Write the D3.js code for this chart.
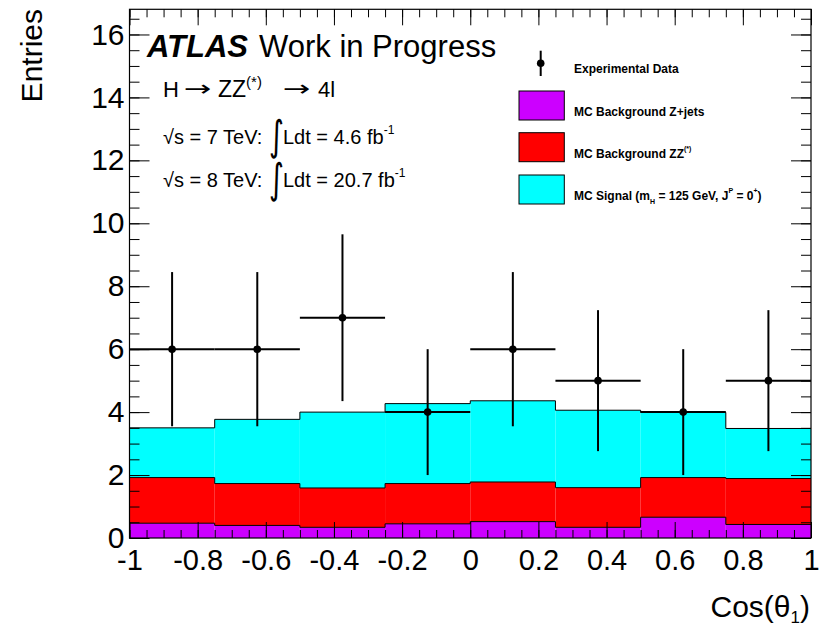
<!DOCTYPE html>
<html><head><meta charset="utf-8">
<script src="https://cdn.jsdelivr.net/npm/d3@7"></script>
<style>
body{margin:0;background:#fff;}
svg{display:block;font-family:"Liberation Sans",Arial,Helvetica,sans-serif;}
</style></head><body>
<svg id="chart" width="823" height="628"></svg>
<script>
// cos(theta_1) histogram: bin edges and per-bin contents
const binEdges = [-1, -0.75, -0.5, -0.25, 0, 0.25, 0.5, 0.75, 1];
const zjets  = [0.47, 0.40, 0.34, 0.45, 0.52, 0.34, 0.66, 0.43];
const zz     = [1.45, 1.33, 1.25, 1.28, 1.26, 1.26, 1.26, 1.46];
const signal = [1.58, 2.04, 2.41, 2.54, 2.58, 2.46, 2.07, 1.59];
const dataCounts = [6, 6, 7, 4, 6, 5, 4, 5];
const dataErrors = [2.45, 2.45, 2.65, 2.0, 2.45, 2.24, 2.0, 2.24];

const xTickValues = [-1, -0.8, -0.6, -0.4, -0.2, 0, 0.2, 0.4, 0.6, 0.8, 1];
const xTickLabels = ["-1", "-0.8", "-0.6", "-0.4", "-0.2", "0", "0.2", "0.4", "0.6", "0.8", "1"];
const yTickValues = [0, 2, 4, 6, 8, 10, 12, 14, 16];
const yTickLabels = ["0", "2", "4", "6", "8", "10", "12", "14", "16"];

const layerKeys = ["zjets", "zz", "signal"];
const layerColors = {zjets: "#cc00ff", zz: "#ff0000", signal: "#00ffff"};

const svg = d3.select("#chart");
const L = 129.5, R = 811, T = 9.3, B = 538;
const x = d3.scaleLinear().domain([-1, 1]).range([L, R]);
const y = d3.scaleLinear().domain([0, 16.8]).range([B, T]);

// stacked MC histograms
const rows = dataCounts.map((_, i) => ({i, zjets: zjets[i], zz: zz[i], signal: signal[i]}));
const stacked = d3.stack().keys(layerKeys)(rows);

const gHist = svg.append("g");
stacked.forEach(layer => {
  const g = gHist.append("g");
  g.selectAll("rect").data(layer).join("rect")
    .attr("x", d => x(binEdges[d.data.i]))
    .attr("width", d => x(binEdges[d.data.i + 1]) - x(binEdges[d.data.i]))
    .attr("y", d => y(d[1]))
    .attr("height", d => y(d[0]) - y(d[1]))
    .attr("fill", layerColors[layer.key]);
});
// step outlines on top of every layer
stacked.forEach(layer => {
  const pts = layer.map(d => [binEdges[d.data.i], d[1]]);
  pts.push([binEdges[binEdges.length - 1], layer[layer.length - 1][1]]);
  const line = d3.line().x(p => x(p[0])).y(p => y(p[1])).curve(d3.curveStepAfter);
  gHist.append("path").attr("d", line(pts))
    .attr("fill", "none").attr("stroke", "#000").attr("stroke-width", 1);
});

// axes with inward ticks on all four sides
function minorTicks(lo, hi, step) {
  const out = [];
  for (let v = lo; v <= hi + 1e-9; v += step) out.push(+v.toFixed(4));
  return out;
}
const xMinor = minorTicks(-1, 1, 0.05);
const yMinor = minorTicks(0, 16.5, 0.5);

function styleAxis(g) {
  g.select(".domain").remove();
  g.selectAll(".tick line").attr("stroke", "#000").attr("stroke-width", 1);
}

svg.append("g").attr("transform", `translate(0,${B})`)
  .call(d3.axisBottom(x).tickValues(xMinor).tickSize(-8).tickFormat(""))
  .call(styleAxis);
svg.append("g").attr("transform", `translate(0,${B})`)
  .call(d3.axisBottom(x).tickValues(xTickValues).tickSize(-16).tickPadding(11)
    .tickFormat((d, i) => xTickLabels[i]))
  .call(styleAxis)
  .selectAll("text").attr("font-size", 29).attr("fill", "#000")
  .attr("font-family", "Liberation Sans, Arial, sans-serif");
svg.append("g").attr("transform", `translate(0,${T})`)
  .call(d3.axisTop(x).tickValues(xMinor).tickSize(-8).tickFormat(""))
  .call(styleAxis);
svg.append("g").attr("transform", `translate(0,${T})`)
  .call(d3.axisTop(x).tickValues(xTickValues).tickSize(-16).tickFormat(""))
  .call(styleAxis);

svg.append("g").attr("transform", `translate(${L},0)`)
  .call(d3.axisLeft(y).tickValues(yMinor).tickSize(-10).tickFormat(""))
  .call(styleAxis);
svg.append("g").attr("transform", `translate(${L},0)`)
  .call(d3.axisLeft(y).tickValues(yTickValues).tickSize(-20).tickPadding(5)
    .tickFormat((d, i) => yTickLabels[i]))
  .call(styleAxis)
  .selectAll("text").attr("font-size", 30).attr("fill", "#000")
  .attr("font-family", "Liberation Sans, Arial, sans-serif");
svg.append("g").attr("transform", `translate(${R},0)`)
  .call(d3.axisRight(y).tickValues(yMinor).tickSize(-10).tickFormat(""))
  .call(styleAxis);
svg.append("g").attr("transform", `translate(${R},0)`)
  .call(d3.axisRight(y).tickValues(yTickValues).tickSize(-20).tickFormat(""))
  .call(styleAxis);

// frame
svg.append("rect").attr("x", L).attr("y", T).attr("width", R - L).attr("height", B - T)
  .attr("fill", "none").attr("stroke", "#000").attr("stroke-width", 1.2);

// data points with error bars
const gData = svg.append("g");
dataCounts.forEach((n, i) => {
  const xc = (binEdges[i] + binEdges[i + 1]) / 2;
  gData.append("line")
    .attr("x1", x(binEdges[i])).attr("x2", x(binEdges[i + 1]))
    .attr("y1", y(n)).attr("y2", y(n))
    .attr("stroke", "#000").attr("stroke-width", 2);
  gData.append("line")
    .attr("x1", x(xc)).attr("x2", x(xc))
    .attr("y1", y(n - dataErrors[i])).attr("y2", y(n + dataErrors[i]))
    .attr("stroke", "#000").attr("stroke-width", 2);
  gData.append("circle").attr("cx", x(xc)).attr("cy", y(n)).attr("r", 3.8).attr("fill", "#000");
});

// axis titles
svg.append("text").attr("transform", "translate(41.5,9) rotate(-90)")
  .attr("text-anchor", "end").attr("font-size", 30).text("Entries");
const xt = svg.append("text").attr("x", 810).attr("y", 617).attr("text-anchor", "end").attr("font-size", 30);
xt.append("tspan").text("Cos(θ");
xt.append("tspan").attr("font-size", 17).attr("dy", 6).text("1");
xt.append("tspan").attr("dy", -6).text(")");

// labels
const lab = svg.append("g");
const t1 = lab.append("text").attr("x", 147).attr("y", 57).attr("font-size", 31);
t1.append("tspan").attr("font-weight", "bold").attr("font-style", "italic").text("ATLAS");
t1.append("tspan").attr("x", 259).text("Work in Progress");

// decay chain, with wide arrows
const symFont = "DejaVu Sans, sans-serif";
lab.append("text").attr("x", 163).attr("y", 97).attr("font-size", 22).text("H");
lab.append("text").attr("font-family", symFont).attr("font-size", 22)
  .attr("transform", "translate(184,96) scale(1.5,1)").text("→");
const zzT = lab.append("text").attr("x", 218).attr("y", 97).attr("font-size", 23);
zzT.append("tspan").text("ZZ");
zzT.append("tspan").attr("font-size", 15).attr("dy", -10).text("(*)");
lab.append("text").attr("font-family", symFont).attr("font-size", 22)
  .attr("transform", "translate(283,96) scale(1.5,1)").text("→");
lab.append("text").attr("x", 318).attr("y", 97).attr("font-size", 22).text("4l");

function lumiLine(yBase, energy, lumi) {
  const a = lab.append("text").attr("x", 163).attr("y", yBase).attr("font-size", 20);
  a.text(`√s = ${energy} TeV:`);
  lab.append("text").attr("font-family", symFont).attr("font-size", 32)
    .attr("transform", `translate(269,${yBase + 6}) scale(0.9,1.3)`).text("∫");
  const b = lab.append("text").attr("x", 283).attr("y", yBase).attr("font-size", 20);
  b.append("tspan").text(`Ldt = ${lumi} fb`);
  b.append("tspan").attr("font-size", 12).attr("dy", -10).text("-1");
}
lumiLine(144, 7, "4.6");
lumiLine(187, 8, "20.7");

// legend
const leg = svg.append("g").attr("font-size", 12).attr("font-weight", "bold");
leg.append("line").attr("x1", 540.7).attr("x2", 540.7).attr("y1", 50.7).attr("y2", 76)
  .attr("stroke", "#000").attr("stroke-width", 2);
leg.append("circle").attr("cx", 540.7).attr("cy", 63.3).attr("r", 3.8).attr("fill", "#000");
leg.append("text").attr("x", 574).attr("y", 73).text("Experimental Data");

const boxTops = [91, 132.7, 175];
layerKeys.forEach((k, i) => {
  leg.append("rect").attr("x", 519).attr("y", boxTops[i]).attr("width", 45.3).attr("height", 29)
    .attr("fill", layerColors[k]).attr("stroke", "#000").attr("stroke-width", 1);
});
leg.append("text").attr("x", 574).attr("y", 115.5).text("MC Background Z+jets");
const l2 = leg.append("text").attr("x", 574).attr("y", 157.5);
l2.append("tspan").text("MC Background ZZ");
l2.append("tspan").attr("font-size", 7).attr("dy", -7).text("(*)");
const l3 = leg.append("text").attr("x", 574).attr("y", 199.5);
l3.append("tspan").text("MC Signal (m");
l3.append("tspan").attr("font-size", 7).attr("dy", 4).text("H");
l3.append("tspan").attr("dy", -4).text(" = 125 GeV, J");
l3.append("tspan").attr("font-size", 7).attr("dy", -7).text("P");
l3.append("tspan").attr("dy", 7).text(" = 0");
l3.append("tspan").attr("font-size", 7).attr("dy", -7).text("+");
l3.append("tspan").attr("dy", 7).text(")");
</script>
</body></html>
